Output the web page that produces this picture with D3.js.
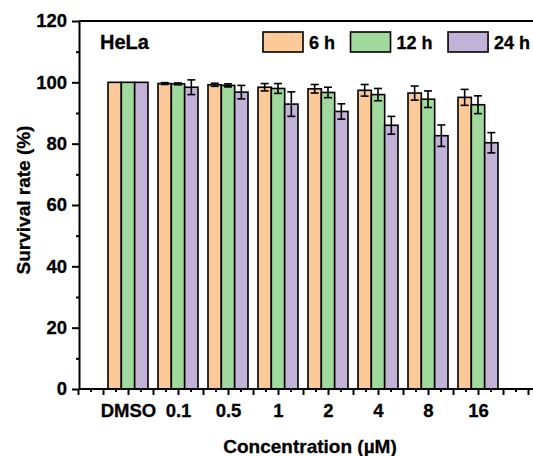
<!DOCTYPE html>
<html lang="en">
<head>
<meta charset="utf-8">
<title>HeLa survival</title>
<style>
  body { margin: 0; background: #fff; }
  svg { display: block; }
  text { font-family: "Liberation Sans", Arial, sans-serif; font-weight: bold; fill: #000; stroke: #000; stroke-width: 0.3px; }
  .axis path, .axis line { stroke: #000; stroke-width: 2; }
  .axis text { font-size: 18.5px; }
</style>
</head>
<body>
<script src="https://cdn.jsdelivr.net/npm/d3@7"></script>
<script>
// data
var categories = ["DMSO", "0.1", "0.5", "1", "2", "4", "8", "16"];
var seriesNames = ["6 h", "12 h", "24 h"];
var h6 = [100, 99.6, 99.2, 98.4, 97.9, 97.4, 96.5, 95.1];
var h6err = [0, 0.3, 0.5, 1.2, 1.4, 1.9, 2.3, 2.6];
var h12 = [100, 99.5, 99.0, 98.0, 96.7, 96.0, 94.5, 92.7];
var h12err = [0, 0.3, 0.5, 1.6, 1.7, 2.0, 2.7, 2.9];
var h24 = [100, 98.4, 96.8, 92.9, 90.5, 86.0, 82.6, 80.3];
var h24err = [0, 2.4, 2.2, 4.0, 2.5, 2.9, 3.5, 3.3];
var yTicks = [0, 20, 40, 60, 80, 100, 120];

var colors = ["#fcc998", "#a0d99e", "#c3b2d7"];
var values = [h6, h12, h24];
var errors = [h6err, h12err, h24err];

// size and plot edges (note: "top" is taken by window.top)
var w = 533, h = 456;
var plotLeft = 79, plotTop = 21, plotBottom = 389;

var svg = d3.select("body").append("svg")
  .attr("width", w)
  .attr("height", h);

// x: categories sit at 1..8, axis starts at 0
var xScale = d3.scaleLinear()
  .domain([0, 9.1])
  .range([78, 78 + 9.1 * 50]);

var yScale = d3.scaleLinear()
  .domain([0, 120])
  .range([plotBottom, plotTop]);

// position of each bar inside a group (group is 0.8 of a step)
var xSub = d3.scaleBand()
  .domain(d3.range(seriesNames.length))
  .range([0, xScale(0.8) - xScale(0)]);

// flatten into rows for drawing
var rows = [];
categories.forEach(function(c, i) {
  seriesNames.forEach(function(s, j) {
    rows.push({ cat: i, s: j, v: values[j][i], e: errors[j][i] });
  });
});

function barX(d) { return xScale(d.cat + 1) - (xScale(0.4) - xScale(0)) + xSub(d.s); }

svg.selectAll("rect.bar")
  .data(rows)
  .enter()
  .append("rect")
  .attr("class", "bar")
  .attr("x", barX)
  .attr("y", function(d) { return yScale(d.v); })
  .attr("width", xSub.bandwidth())
  .attr("height", function(d) { return yScale(0) - yScale(d.v); })
  .attr("fill", function(d) { return colors[d.s]; })
  .attr("stroke", "#000")
  .attr("stroke-width", 1.6);

// error bars
var errRows = rows.filter(function(d) { return d.e > 0; });
var eg = svg.selectAll("g.err")
  .data(errRows)
  .enter()
  .append("g")
  .attr("class", "err")
  .attr("stroke", "#000")
  .attr("stroke-width", 1.6);

function cx(d) { return barX(d) + xSub.bandwidth() / 2; }

eg.append("line")
  .attr("x1", cx).attr("x2", cx)
  .attr("y1", function(d) { return yScale(d.v + d.e); })
  .attr("y2", function(d) { return yScale(d.v - d.e); });
eg.append("line")
  .attr("x1", function(d) { return cx(d) - 4; })
  .attr("x2", function(d) { return cx(d) + 4; })
  .attr("y1", function(d) { return yScale(d.v + d.e); })
  .attr("y2", function(d) { return yScale(d.v + d.e); });
eg.append("line")
  .attr("x1", function(d) { return cx(d) - 4; })
  .attr("x2", function(d) { return cx(d) + 4; })
  .attr("y1", function(d) { return yScale(d.v - d.e); })
  .attr("y2", function(d) { return yScale(d.v - d.e); });

// top frame line
svg.append("line")
  .attr("x1", plotLeft).attr("x2", w)
  .attr("y1", plotTop).attr("y2", plotTop)
  .attr("stroke", "#000").attr("stroke-width", 2);

// x axis: minor, major ticks, then labels
svg.append("g")
  .attr("class", "axis")
  .attr("transform", "translate(0," + plotBottom + ")")
  .call(d3.axisBottom(xScale).tickValues(d3.range(0.25, 9.1, 0.5)).tickSize(3).tickFormat(""))
  .select(".domain").remove();

svg.append("g")
  .attr("class", "axis")
  .attr("transform", "translate(0," + plotBottom + ")")
  .call(d3.axisBottom(xScale).tickValues(d3.range(0, 9.1, 0.5)).tickSize(6).tickSizeOuter(0).tickFormat(""))
  .select(".domain").attr("d", "M" + plotLeft + ",0H" + w);

svg.append("g")
  .attr("class", "axis")
  .attr("transform", "translate(0," + plotBottom + ")")
  .call(d3.axisBottom(xScale)
    .tickValues(d3.range(1, categories.length + 1))
    .tickSize(0).tickPadding(15)
    .tickFormat(function(d) { return categories[d - 1]; }))
  .call(function(g) { g.select(".domain").remove(); });

// y axis
svg.append("g")
  .attr("class", "axis")
  .attr("transform", "translate(" + plotLeft + ",0)")
  .call(d3.axisLeft(yScale).tickValues(d3.range(10, 120, 20)).tickSize(3).tickFormat(""))
  .select(".domain").remove();

svg.append("g")
  .attr("class", "axis")
  .attr("transform", "translate(" + plotLeft + ",0)")
  .call(d3.axisLeft(yScale).tickValues(yTicks).tickSize(7).tickSizeOuter(0).tickPadding(5));

// axis titles
svg.append("text")
  .attr("x", 310).attr("y", 453)
  .attr("text-anchor", "middle")
  .style("font-size", "19px")
  .text("Concentration (\u00b5M)");

svg.append("text")
  .attr("transform", "translate(30,200) rotate(-90)")
  .attr("text-anchor", "middle")
  .style("font-size", "19px")
  .text("Survival rate (%)");

// cell line label
svg.append("text")
  .attr("x", 100).attr("y", 49)
  .style("font-size", "20px")
  .text("HeLa");

// legend
var lx = 263;
seriesNames.forEach(function(name, j) {
  svg.append("rect")
    .attr("x", lx).attr("y", 32)
    .attr("width", 40).attr("height", 20)
    .attr("fill", colors[j])
    .attr("stroke", "#000").attr("stroke-width", 1.6);
  var t = svg.append("text")
    .attr("x", lx + 46).attr("y", 48.5)
    .style("font-size", "18px")
    .text(name);
  lx += 46 + t.node().getComputedTextLength() + 15.5;
});
</script>
</body>
</html>
